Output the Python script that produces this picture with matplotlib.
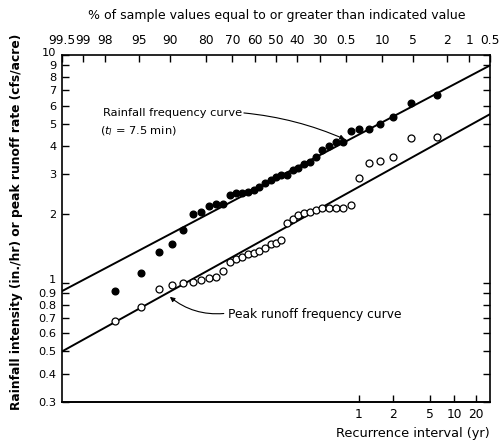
import matplotlib
matplotlib.use("Agg")
import matplotlib.pyplot as plt
from matplotlib.transforms import offset_copy
from statistics import NormalDist

nd = NormalDist()

# ---- data -------------------------------------------------------------
top_pct = [99.5, 99, 98, 95, 90, 80, 70, 60, 50, 40, 30, 20, 10, 5, 2, 1, 0.5]
top_labels = ["99.5", "99", "98", "95", "90", "80", "70", "60", "50", "40",
              "30", "0.5", "10", "5", "2", "1", "0.5"]
recurrence_yr = [1, 2, 5, 10, 20]
recurrence_labels = ["1", "2", "5", "10", "20"]
events_per_year = 6.25
y_ticks = [0.3, 0.4, 0.5, 0.6, 0.7, 0.8, 0.9, 1, 2, 3, 4, 5, 6, 7, 8, 9, 10]
y_labels = ["0.3", "0.4", "0.5", "0.6", "0.7", "0.8", "0.9", "1",
            "2", "3", "4", "5", "6", "7", "8", "9", "10"]

# observed values, sorted ascending (plotted at Weibull positions)
rainfall = [0.92, 1.11, 1.37, 1.48, 1.71, 2.00, 2.05, 2.18, 2.22, 2.22,
            2.43, 2.48, 2.48, 2.50, 2.56, 2.64, 2.75, 2.83, 2.92, 2.98,
            2.98, 3.13, 3.19, 3.33, 3.40, 3.57, 3.83, 3.99, 4.15, 4.15,
            4.64, 4.73, 4.73, 4.98, 5.35, 6.15, 6.68]
runoff = [0.68, 0.78, 0.94, 0.98, 1.00, 1.01, 1.03, 1.05, 1.06, 1.13,
          1.24, 1.27, 1.30, 1.34, 1.35, 1.38, 1.42, 1.48, 1.50, 1.54,
          1.83, 1.91, 1.99, 2.03, 2.05, 2.09, 2.13, 2.12, 2.13, 2.14,
          2.20, 2.89, 3.36, 3.43, 3.57, 4.32, 4.37]

# fitted frequency curves: values at the end exceedance percentages
line_pct = [99.5, 0.5]
rain_line = [0.92, 9.0]
runoff_line = [0.50, 5.5]


def pz(p):
    """exceedance percent -> standard normal variate"""
    return nd.inv_cdf(1 - p / 100.0)


def plot_pos(vals):
    n = len(vals)
    return [nd.inv_cdf((i + 1) / (n + 1)) for i in range(n)]


# ---- figure -----------------------------------------------------------
plt.rcParams['font.family'] = ['DejaVu Sans']
W, H = 501, 445
fig = plt.figure(figsize=(W / 100, H / 100), dpi=100)
ax = fig.add_axes([62 / W, 1 - 402 / H, 428 / W, 347 / H])

ax.set_yscale('log')
ax.set_ylim(0.3, 10)
ax.set_xlim(pz(99.5), pz(0.5))

ax.plot([pz(p) for p in line_pct], rain_line, color='black', lw=1.4)
ax.plot([pz(p) for p in line_pct], runoff_line, color='black', lw=1.4)

ax.plot(plot_pos(rainfall), rainfall, 'o', color='black', ms=4.8,
        mec='black')
ax.plot(plot_pos(runoff), runoff, 'o', mfc='white', mec='black', ms=5.0,
        mew=0.9)

# y axis
ax.set_yticks(y_ticks)
ax.set_yticklabels(y_labels)
ax.yaxis.set_minor_locator(matplotlib.ticker.NullLocator())
ax.tick_params(axis='y', which='both', direction='in', right=True,
               length=5, width=1, labelsize=8.2, pad=4)
for lab in ax.get_yticklabels():
    txt = lab.get_text()
    if txt in ("10", "1"):
        dy = 3 if txt == "10" else 4
        lab.set_transform(offset_copy(lab.get_transform(), fig=fig,
                                      y=dy, units='dots'))

# top axis: exceedance percent
ax.xaxis.tick_top()
ax.set_xticks([pz(p) for p in top_pct])
ax.set_xticklabels(top_labels)
ax.tick_params(axis='x', direction='in', length=5, width=1,
               labelsize=8.8, pad=6)

# bottom axis: recurrence interval
sec = ax.secondary_xaxis('bottom')
sec.set_xticks([pz(100.0 / (events_per_year * t)) for t in recurrence_yr])
sec.set_xticklabels(recurrence_labels)
sec.tick_params(axis='x', direction='in', length=5, width=1,
                labelsize=8.8, pad=4)

for s in ax.spines.values():
    s.set_linewidth(1.2)
sec.spines['bottom'].set_linewidth(1.2)

# annotations
ax.text(0.096, 0.833, "Rainfall frequency curve", transform=ax.transAxes,
        fontsize=8.2, ha='left', va='center')
ax.text(0.089, 0.781, r"($t_l$ = 7.5 min)", transform=ax.transAxes,
        fontsize=8.2, ha='left', va='center')
ax.annotate("", xy=(0.661, 0.757), xytext=(0.425, 0.833),
            xycoords='axes fraction', textcoords='axes fraction',
            arrowprops=dict(arrowstyle='-|>', color='black', lw=0.8,
                            mutation_scale=7, shrinkA=0, shrinkB=0,
                            connectionstyle='arc3,rad=-0.08'))

ax.text(0.388, 0.251, "Peak runoff frequency curve", transform=ax.transAxes,
        fontsize=8.8, ha='left', va='center')
ax.annotate("", xy=(0.252, 0.303), xytext=(0.378, 0.255),
            xycoords='axes fraction', textcoords='axes fraction',
            arrowprops=dict(arrowstyle='-|>', color='black', lw=0.8,
                            mutation_scale=7, shrinkA=0, shrinkB=0,
                            connectionstyle='arc3,rad=-0.2'))

# titles / axis labels
fig.text(277 / W, 1 - 16 / H,
         "% of sample values equal to or greater than indicated value",
         ha='center', va='center', fontsize=9)
fig.text(17 / W, 1 - 222 / H,
         "Rainfall intensity (in./hr) or peak runoff rate (cfs/acre)",
         ha='center', va='center', rotation=90, fontsize=8.8,
         fontweight='bold')
fig.text(490 / W, 1 - 433 / H, "Recurrence interval (yr)",
         ha='right', va='center', fontsize=9.3)

fig.savefig("out.png", dpi=100)
